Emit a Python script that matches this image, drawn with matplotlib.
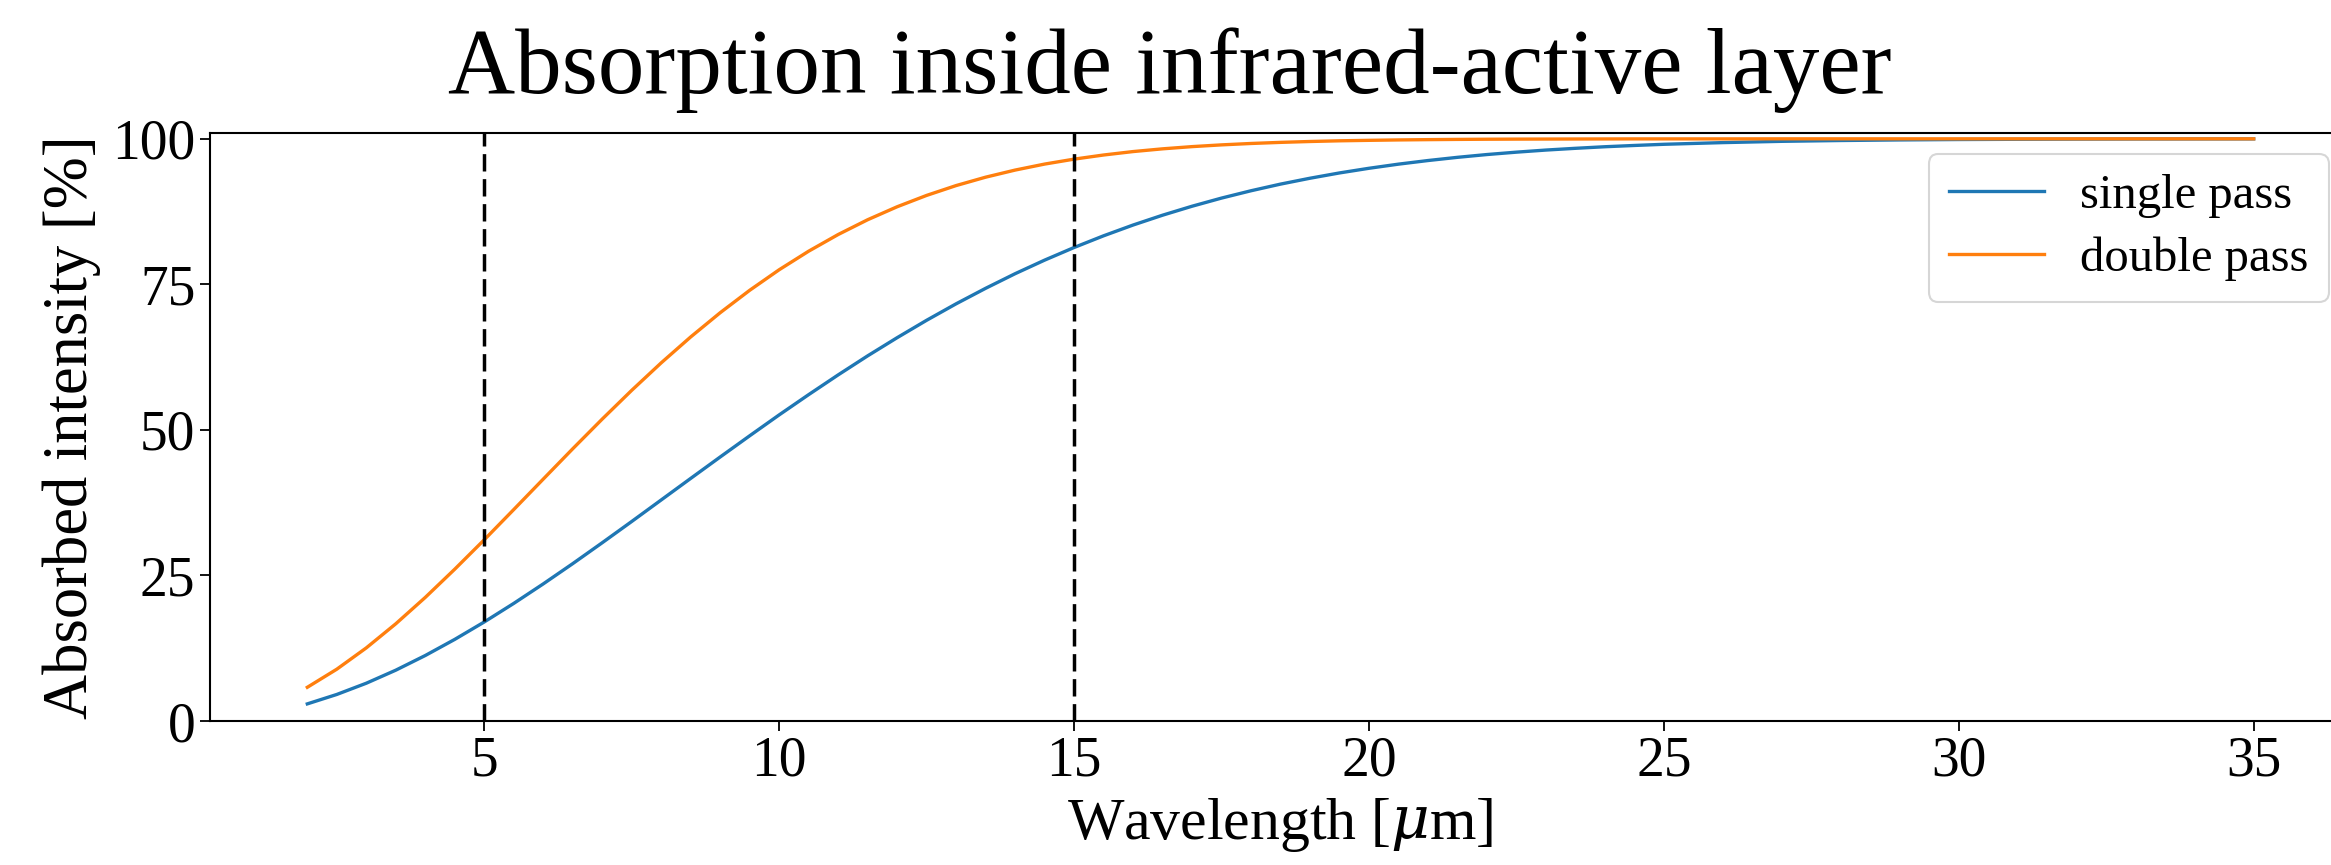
import matplotlib
matplotlib.use("Agg")
import matplotlib.pyplot as plt

wavelength = [2, 2.5, 3, 3.5, 4, 4.5, 5, 5.5, 6, 6.5, 7, 7.5, 8, 8.5, 9, 9.5, 10, 10.5,
              11, 11.5, 12, 12.5, 13, 13.5, 14, 14.5, 15, 15.5, 16, 16.5, 17, 17.5,
              18, 18.5, 19, 19.5, 20, 20.5, 21, 21.5, 22, 22.5, 23, 23.5, 24, 24.5,
              25, 26, 27, 28, 29, 30, 31, 32, 33, 34, 35]
single_pass = [2.94, 4.56, 6.49, 8.73, 11.25, 14.02, 17.01, 20.20, 23.55, 27.03,
               30.62, 34.27, 37.97, 41.67, 45.35, 48.99, 52.58, 56.06, 59.45, 62.72,
               65.84, 68.83, 71.66, 74.32, 76.83, 79.16, 81.33, 83.34, 85.19, 86.88,
               88.42, 89.82, 91.08, 92.22, 93.23, 94.14, 94.94, 95.65, 96.27, 96.82,
               97.30, 97.71, 98.07, 98.37, 98.64, 98.86,
               99.06, 99.35, 99.57, 99.71, 99.81, 99.88, 99.92, 99.95, 99.97, 99.98, 99.99]
double_pass = [5.79, 8.90, 12.56, 16.70, 21.23, 26.08, 31.13, 36.32, 41.55, 46.76,
               51.86, 56.80, 61.52, 65.97, 70.13, 73.98, 77.51, 80.70, 83.56, 86.10,
               88.33, 90.28, 91.97, 93.41, 94.63, 95.66, 96.51, 97.22, 97.81, 98.28,
               98.66, 98.96, 99.20, 99.39, 99.54, 99.66, 99.74, 99.81, 99.86, 99.90,
               99.93, 99.95, 99.96, 99.97, 99.98, 99.99,
               99.99, 99.99, 100.0, 100.0, 100.0, 100.0, 100.0, 100.0, 100.0, 100.0, 100.0]
marker_lines = [5, 15]
xticks = [5, 10, 15, 20, 25, 30, 35]
yticks = [0, 25, 50, 75, 100]

plt.rcParams['font.family'] = ['Liberation Serif', 'DejaVu Serif']
plt.rcParams['mathtext.fontset'] = 'dejavuserif'

W, H = 2331, 865
fig = plt.figure(figsize=(W / 100, H / 100), dpi=100)
left, right, top, bottom = 210, 2351, 133, 721
ax = fig.add_axes([left / W, 1 - bottom / H, (right - left) / W, (bottom - top) / H])

ax.plot(wavelength, single_pass, color='#1f77b4', lw=2.4, label='single pass')
ax.plot(wavelength, double_pass, color='#ff7f0e', lw=2.4, label='double pass')
for xv in marker_lines:
    ax.axvline(xv, color='black', lw=2.5, linestyle=(0, (5, 2.2)))

ax.set_xlim(0.35, 36.65)
ax.set_ylim(0, 101)
ax.set_xticks(xticks)
ax.set_yticks(yticks)
ax.tick_params(labelsize=40, length=7, width=1.3)
for s in ax.spines.values():
    s.set_linewidth(1.5)

ax.set_xlabel('Wavelength [$\\mu$m]', fontsize=43, labelpad=6)
ax.set_ylabel('Absorbed intensity [%]', fontsize=45, labelpad=8)
fig.suptitle('Absorption inside infrared-active layer', fontsize=67, x=1170 / W, y=1 - 70 / H, va='center')

leg = ax.legend(loc='upper right', bbox_to_anchor=(2329 / W, 1 - 154 / H),
                bbox_transform=fig.transFigure, borderaxespad=0, fontsize=35,
                handlelength=1.95, handletextpad=0.75, borderpad=0.42, labelspacing=0.38)
leg.get_frame().set_linewidth(1.5)

fig.savefig('out.png', dpi=100)
